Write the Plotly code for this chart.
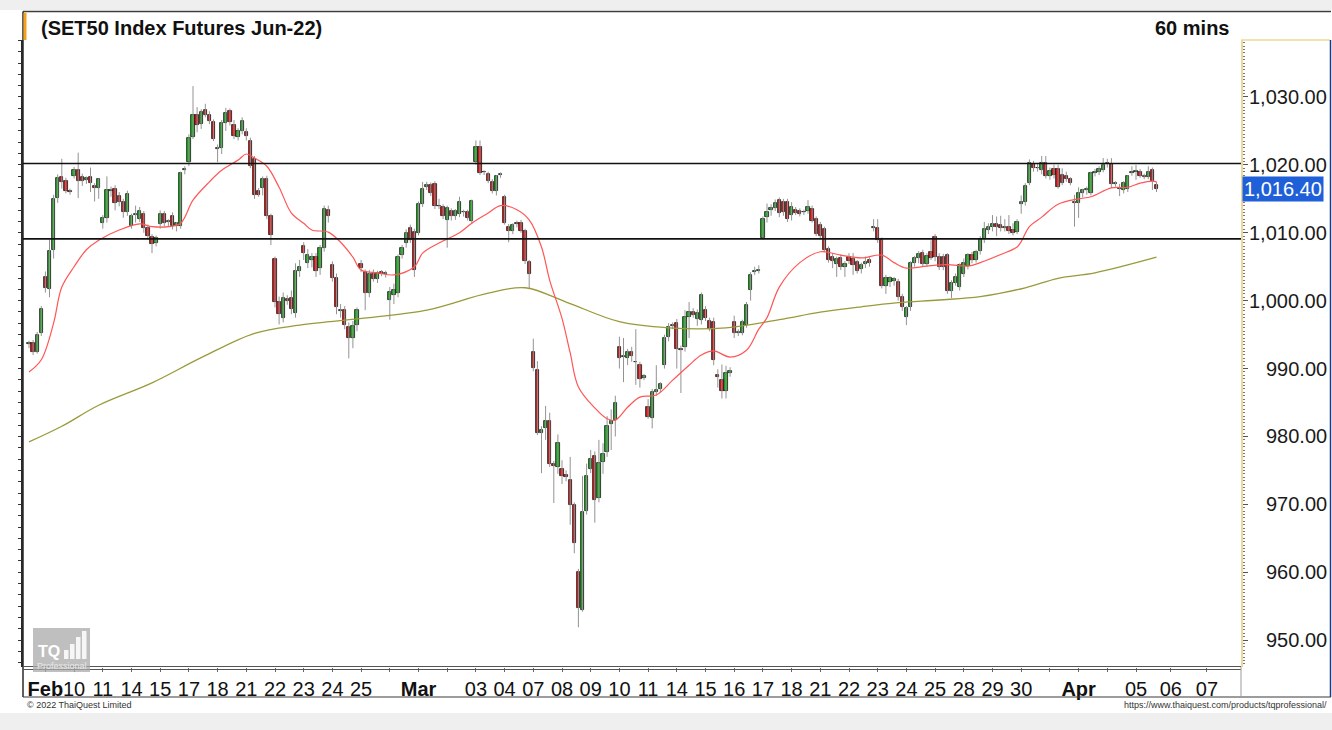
import plotly.graph_objects as go

# ---------------- data (60-min bars) ----------------
opens = [993.6, 993.8, 992.4, 995.2, 1003.5, 1001.7, 1007.5, 1015.1, 1018.2, 1017.6, 1016.1,
         1018.4, 1019.3, 1018.2, 1017.7, 1018.2, 1016.9, 1016.6,
         1011.5, 1012.2, 1016.2, 1016.4, 1015.4, 1014.6, 1013.1,
         1011.0, 1012.6, 1012.0, 1012.8, 1010.7, 1009.4, 1008.5,
         1011.3, 1012.8, 1011.6, 1012.4, 1011.0, 1011.0, 1019.2,
         1020.4, 1024.1, 1027.4, 1026.0, 1028.1, 1027.4, 1026.3,
         1022.3, 1022.5, 1026.2, 1027.9, 1025.8, 1024.1, 1025.0,
         1024.9, 1023.5, 1020.8, 1016.2, 1016.6, 1017.9, 1012.4,
         1006.1, 999.8, 997.5, 1000.2, 1000.4, 998.2, 1004.3,
         1008.0, 1005.5, 1006.0, 1006.5, 1004.8, 1007.8, 1013.4,
         1005.2, 1003.3, 998.5, 998.6, 996.1, 994.5, 996.4,
         1005.4, 1004.2, 1001.1, 1004.0, 1003.2, 1004.2, 1004.0,
         1000.1, 1000.8, 1001.1, 1006.8, 1008.5, 1010.7, 1010.1,
         1010.0, 1014.3, 1016.8, 1017.0, 1017.2, 1014.0, 1013.8,
         1011.9, 1013.2, 1012.5, 1012.8, 1013.0, 1013.0, 1011.8,
         1020.4, 1022.6, 1018.9, 1018.7, 1017.5, 1016.1, 1018.5,
         1015.3, 1010.8, 1010.2, 1011.5, 1011.4, 1010.2, 1005.7,
         992.4, 989.8, 980.5, 981.2, 982.3, 975.9, 975.5,
         975.2, 974.4, 973.6, 969.9, 960.0, 954.5, 969.0,
         975.2, 977.1, 970.9, 976.3, 977.7, 981.8, 982.5,
         993.2, 991.7, 991.6, 992.5, 990.9, 990.6, 988.6,
         984.4, 982.7, 986.5, 987.0, 990.5, 994.6, 996.3,
         996.7, 992.9, 993.2, 997.6, 998.4, 997.3, 997.2,
         998.6, 997.0, 996.9, 989.0, 988.3, 986.7, 989.4,
         996.9, 995.2, 995.3, 996.4, 1001.6, 1004.2, 1004.4,
         1009.2, 1012.3, 1013.3, 1013.6, 1014.8, 1014.6, 1014.6,
         1012.6, 1013.4, 1013.2, 1013.0, 1013.2, 1013.5, 1012.0,
         1011.2, 1010.5, 1007.6, 1006.5, 1005.4, 1006.3, 1004.9,
         1006.4, 1006.1, 1005.7, 1004.6, 1005.4, 1006.0, 1010.7,
         1010.7, 1008.9, 1002.2, 1002.8, 1002.9, 1002.7, 1000.5,
         997.6, 999.1, 1005.6, 1006.3, 1007.0, 1005.4, 1007.1,
         1009.4, 1006.5, 1006.4, 1006.7, 1001.4, 1002.6, 1002.0,
         1004.0, 1005.1, 1006.7, 1006.0, 1007.3, 1009.1, 1010.4,
         1010.8, 1011.3, 1011.2, 1010.7, 1010.9, 1010.4, 1010.1,
         1014.2, 1014.5, 1017.4, 1020.2, 1019.6, 1019.3, 1020.3,
         1018.4, 1019.4, 1019.4, 1018.5, 1018.3, 1017.9, 1014.6,
         1014.4, 1015.9, 1016.3, 1015.9, 1018.8, 1019.0, 1019.2,
         1020.1, 1020.1, 1017.2, 1016.6, 1016.3, 1016.4, 1018.8,
         1019.0, 1019.0, 1018.4, 1018.2, 1019.3, 1017.0]
highs = [994.1, 994.2, 995.4, 999.2, 1004.3, 1009.0, 1015.6, 1018.6, 1020.9, 1018.1, 1016.5,
         1019.7, 1021.8, 1018.7, 1018.3, 1019.6, 1017.3, 1018.0,
         1012.6, 1018.3, 1016.8, 1017.0, 1016.0, 1015.0, 1016.2,
         1012.8, 1014.0, 1013.8, 1013.2, 1011.2, 1009.8, 1009.6,
         1013.3, 1013.2, 1012.0, 1013.0, 1011.6, 1019.0, 1019.8,
         1024.5, 1031.6, 1028.5, 1028.2, 1029.0, 1027.9, 1026.7,
         1023.0, 1026.6, 1028.4, 1028.3, 1026.6, 1025.4, 1027.0,
         1025.4, 1024.0, 1021.3, 1016.6, 1018.3, 1018.4, 1012.8,
         1006.5, 1000.6, 1001.2, 1000.8, 1001.5, 1005.5, 1006.0,
         1008.6, 1007.6, 1007.0, 1007.0, 1008.2, 1014.0, 1014.0,
         1005.8, 1004.0, 999.5, 999.2, 996.8, 997.0, 999.0,
         1006.0, 1004.6, 1004.5, 1004.6, 1004.4, 1004.5, 1004.4,
         1002.0, 1002.5, 1006.8, 1008.2, 1010.5, 1011.2, 1010.6,
         1014.6, 1017.5, 1017.5, 1017.4, 1017.6, 1015.0, 1014.2,
         1014.0, 1013.6, 1013.5, 1015.3, 1013.4, 1013.4, 1014.9,
         1023.6, 1023.6, 1019.2, 1019.0, 1017.9, 1018.5, 1018.9,
         1015.6, 1011.3, 1011.4, 1011.8, 1011.9, 1010.6, 1006.0,
         994.4, 991.1, 981.5, 984.5, 983.5, 976.4, 980.3,
         976.5, 975.0, 977.0, 970.3, 960.5, 974.2, 976.0,
         978.0, 977.8, 979.5, 979.0, 983.0, 984.0, 986.0,
         994.7, 994.5, 992.9, 993.2, 995.8, 991.0, 989.2,
         985.5, 987.0, 990.5, 988.0, 995.0, 996.7, 996.8,
         997.3, 993.4, 998.6, 999.8, 998.9, 998.7, 1001.2,
         999.2, 997.5, 997.5, 989.9, 990.6, 990.4, 990.2,
         997.8, 995.8, 997.2, 999.8, 1004.2, 1005.0, 1005.2,
         1012.4, 1014.3, 1014.2, 1014.9, 1015.2, 1015.0, 1015.0,
         1014.5, 1013.8, 1013.6, 1013.4, 1014.8, 1014.0, 1012.4,
         1011.6, 1010.9, 1008.0, 1007.0, 1006.5, 1006.8, 1005.8,
         1007.0, 1007.0, 1006.0, 1005.6, 1006.5, 1006.4, 1012.0,
         1012.0, 1009.3, 1003.8, 1003.6, 1003.5, 1003.2, 1001.0,
         999.2, 1005.8, 1006.6, 1007.3, 1007.5, 1007.0, 1008.9,
         1009.8, 1007.0, 1006.9, 1007.0, 1003.0, 1004.0, 1005.5,
         1006.2, 1007.0, 1007.2, 1007.5, 1009.5, 1011.6, 1011.4,
         1012.6, 1012.4, 1012.5, 1012.0, 1012.6, 1011.4, 1012.0,
         1015.5, 1017.3, 1020.8, 1020.6, 1020.2, 1021.3, 1021.3,
         1019.6, 1020.0, 1020.0, 1019.5, 1019.0, 1018.2, 1015.6,
         1016.7, 1016.5, 1016.8, 1019.0, 1019.4, 1019.8, 1021.0,
         1020.9, 1021.0, 1017.6, 1017.2, 1017.6, 1018.5, 1019.8,
         1020.0, 1019.4, 1018.7, 1019.8, 1019.6, 1017.5]
lows = [993.0, 992.0, 992.2, 994.8, 1001.2, 1000.5, 1006.2, 1014.4, 1016.5, 1015.8, 1015.6,
        1018.0, 1015.1, 1016.9, 1017.2, 1016.0, 1014.6, 1015.0,
        1010.6, 1011.5, 1015.3, 1013.3, 1013.9, 1012.2, 1012.5,
        1010.6, 1011.5, 1011.6, 1010.0, 1009.0, 1007.0, 1008.0,
        1010.6, 1011.0, 1011.0, 1010.5, 1010.2, 1010.6, 1018.6,
        1019.8, 1023.8, 1024.8, 1025.3, 1027.0, 1026.0, 1023.5,
        1020.4, 1021.6, 1025.0, 1025.8, 1023.8, 1023.6, 1024.5,
        1023.6, 1019.5, 1015.0, 1015.3, 1015.5, 1012.0, 1008.2,
        999.0, 996.5, 996.8, 999.4, 998.0, 997.5, 1003.5,
        1006.0, 1004.8, 1004.9, 1003.5, 1003.8, 1007.2, 1011.5,
        1002.8, 998.0, 997.5, 995.8, 991.5, 993.0, 995.5,
        1004.2, 998.6, 1000.5, 1002.8, 1002.6, 1003.6, 1003.4,
        997.2, 999.5, 1000.5, 1006.2, 1007.8, 1008.5, 1003.5,
        1009.6, 1013.8, 1016.3, 1015.4, 1013.5, 1013.5, 1012.0,
        1007.8, 1011.8, 1011.9, 1012.3, 1012.4, 1011.8, 1011.3,
        1020.0, 1018.5, 1018.5, 1017.3, 1015.8, 1015.5, 1018.1,
        1011.2, 1008.6, 1009.8, 1010.8, 1010.0, 1005.4, 1001.7,
        989.6, 980.2, 974.6, 979.5, 975.5, 970.2, 974.5,
        973.0, 973.4, 967.0, 962.8, 951.9, 954.2, 968.5,
        974.6, 967.3, 970.3, 974.5, 977.0, 978.0, 980.0,
        990.0, 988.0, 990.5, 991.0, 987.6, 987.2, 988.3,
        982.6, 981.2, 986.0, 986.5, 990.0, 994.0, 995.8,
        990.0, 986.4, 992.5, 994.5, 997.5, 996.3, 996.5,
        997.0, 995.5, 990.5, 987.2, 985.6, 985.6, 988.8,
        994.5, 994.8, 994.9, 996.0, 1000.0, 1003.8, 1004.0,
        1009.0, 1011.5, 1012.5, 1013.2, 1012.3, 1012.5, 1011.6,
        1011.8, 1012.6, 1012.4, 1012.6, 1012.8, 1011.5, 1009.5,
        1009.0, 1007.2, 1005.6, 1004.8, 1003.5, 1004.5, 1003.5,
        1005.4, 1003.8, 1004.0, 1004.0, 1004.8, 1005.0, 1010.2,
        1008.5, 1001.8, 1001.0, 1002.0, 1002.2, 1000.0, 998.5,
        996.4, 998.5, 1005.0, 1005.5, 1005.0, 1005.0, 1006.0,
        1005.8, 1004.5, 1004.5, 1001.0, 1000.4, 1002.2, 1001.5,
        1003.5, 1004.6, 1005.5, 1005.6, 1006.8, 1008.5, 1009.8,
        1010.2, 1009.5, 1010.2, 1010.2, 1009.8, 1009.6, 1009.8,
        1012.8, 1014.0, 1017.0, 1019.0, 1019.0, 1018.6, 1018.0,
        1017.8, 1018.0, 1016.5, 1017.0, 1017.5, 1017.0, 1010.9,
        1012.2, 1015.2, 1015.6, 1015.5, 1018.3, 1018.5, 1018.9,
        1019.6, 1016.6, 1016.8, 1015.4, 1015.8, 1016.0, 1018.4,
        1017.8, 1018.1, 1017.9, 1017.9, 1016.3, 1016.0]
closes = [993.6, 992.4, 995.0, 998.8, 1001.8, 1007.3, 1015.0, 1018.1, 1017.5, 1016.1, 1016.0,
          1019.3, 1017.6, 1017.6, 1018.0, 1017.3, 1016.6, 1017.9,
          1012.2, 1016.3, 1016.2, 1014.4, 1014.6, 1013.1, 1015.7,
          1012.4, 1012.6, 1013.2, 1010.7, 1009.5, 1008.3, 1009.2,
          1012.8, 1011.4, 1011.6, 1011.0, 1011.4, 1018.8, 1019.2,
          1024.0, 1027.4, 1025.9, 1027.8, 1027.4, 1026.5, 1023.8,
          1022.3, 1026.2, 1027.7, 1026.3, 1024.3, 1025.0, 1026.4,
          1024.2, 1019.9, 1015.6, 1015.6, 1017.9, 1012.5, 1009.6,
          999.8, 998.0, 1000.4, 1000.0, 998.8, 1004.3, 1005.0,
          1007.0, 1006.8, 1006.5, 1004.3, 1007.7, 1013.5, 1012.4,
          1003.3, 999.0, 998.5, 996.4, 994.5, 996.2, 998.6,
          1004.8, 1001.1, 1004.0, 1003.2, 1004.1, 1004.0, 1004.0,
          1001.3, 1001.6, 1006.4, 1007.8, 1010.0, 1009.0, 1004.5,
          1014.3, 1016.5, 1017.0, 1015.9, 1014.0, 1013.9, 1012.4,
          1013.6, 1012.5, 1013.2, 1014.6, 1013.0, 1012.2, 1014.7,
          1022.6, 1018.8, 1018.9, 1017.6, 1016.1, 1018.3, 1018.5,
          1011.5, 1010.2, 1011.1, 1011.3, 1010.2, 1005.8, 1003.9,
          990.1, 980.5, 980.9, 982.3, 975.9, 975.7, 979.1,
          974.2, 974.0, 969.9, 964.3, 954.7, 968.9, 974.2,
          976.7, 970.7, 976.1, 977.4, 981.6, 982.3, 985.0,
          991.6, 991.7, 992.4, 991.8, 990.9, 988.5, 988.9,
          982.9, 986.5, 986.8, 987.8, 994.5, 996.1, 996.4,
          992.9, 992.8, 997.6, 998.4, 997.9, 998.2, 1000.8,
          997.4, 995.9, 991.3, 988.7, 986.7, 989.4, 989.6,
          995.2, 995.3, 996.9, 999.4, 1003.8, 1004.4, 1004.4,
          1012.1, 1013.0, 1013.6, 1014.4, 1012.9, 1013.0, 1012.0,
          1013.8, 1012.9, 1012.8, 1013.0, 1013.8, 1011.8, 1009.8,
          1009.5, 1007.5, 1006.0, 1005.8, 1006.2, 1005.0, 1005.4,
          1005.8, 1005.3, 1004.3, 1005.2, 1005.7, 1005.5, 1010.7,
          1008.9, 1002.2, 1003.4, 1003.3, 1003.2, 1000.5, 999.0,
          998.9, 1005.5, 1006.3, 1006.9, 1005.4, 1006.6, 1006.3,
          1006.4, 1005.0, 1005.0, 1001.4, 1002.6, 1003.5, 1005.2,
          1005.6, 1006.7, 1006.0, 1007.2, 1009.1, 1010.5, 1010.8,
          1011.3, 1010.9, 1010.7, 1010.7, 1010.3, 1010.0, 1011.6,
          1014.6, 1016.9, 1020.3, 1019.5, 1019.5, 1020.3, 1018.4,
          1019.1, 1018.5, 1016.8, 1017.4, 1017.9, 1017.4, 1014.4,
          1015.9, 1016.3, 1016.3, 1018.8, 1019.0, 1019.4, 1020.0,
          1020.1, 1017.2, 1017.2, 1016.4, 1017.3, 1018.3, 1018.8,
          1019.0, 1018.4, 1018.2, 1019.0, 1017.6, 1016.4]

# moving averages, sampled at bar indices
fast_ma_idx = [0, 3, 6, 8, 11, 14, 17, 22, 27, 30, 34, 37, 40, 44, 47, 51, 53, 55, 58, 61,
               64, 67, 69, 73, 76, 79, 81, 85, 89, 94, 96, 100, 105, 108, 112, 115, 119, 122,
               125, 127, 130, 132, 134, 138, 141, 143, 146, 149, 153, 157, 161, 164, 167,
               171, 175, 178, 180, 183, 188, 193, 198, 203, 208, 211, 214, 219, 224, 229,
               232, 237, 241, 242, 244, 247, 251, 256, 259, 264, 268, 271, 274, 275]
fast_ma_val = [989.5, 991.3, 996.7, 1002.0, 1005.0, 1007.5, 1008.9, 1010.4, 1011.3, 1010.9,
               1010.9, 1011.4, 1014.8, 1017.5, 1019.2, 1020.7, 1021.6, 1021.0, 1019.8, 1016.7,
               1012.9, 1011.4, 1010.4, 1010.1, 1008.6, 1006.4, 1004.5, 1004.1, 1003.8, 1005.0,
               1007.0, 1008.5, 1010.0, 1011.4, 1012.9, 1014.0, 1013.4, 1011.9,
               1007.9, 1003.0, 997.4, 992.3, 987.3, 984.2, 982.6, 982.4, 984.3, 985.8,
               986.1, 988.3, 990.5, 992.0, 992.6, 991.7, 992.7, 995.8, 997.5, 1002.0,
               1005.6, 1007.2, 1006.7, 1006.3, 1006.7, 1005.6, 1004.8, 1005.1, 1005.3,
               1005.1, 1005.6, 1006.8, 1007.9, 1008.7, 1010.9, 1012.3, 1014.2, 1015.0,
               1015.3, 1016.6, 1016.7, 1017.3, 1017.6, 1017.5]
slow_ma_idx = [0, 8, 17, 30, 42, 55, 66, 83, 97, 112, 121, 131, 144, 156, 170, 183, 193,
               203, 212, 222, 232, 243, 251, 260, 275]
slow_ma_val = [979.2, 981.5, 984.6, 987.9, 991.6, 995.2, 996.4, 997.5, 998.6, 1001.1, 1001.9,
               999.8, 996.9, 996.0, 996.0, 997.2, 998.3, 999.1, 999.7, 1000.1, 1000.6,
               1001.9, 1003.3, 1004.1, 1006.4]

resistance_level = 1020.2
support_level = 1009.1
last_price = 1016.4
price_ticks = [950, 960, 970, 980, 990, 1000, 1010, 1020, 1030]

# one label per trading day (first bar of the day sits at 4 + 7*d)
day_labels = ["<b>Feb</b>", "10", "11", "14", "15", "17", "18", "21", "22", "23", "24", "25",
              "", "<b>Mar</b>", "", "03", "04", "07", "08", "09", "10", "11", "14", "15", "16",
              "17", "18", "21", "22", "23", "24", "25", "28", "29", "30", "", "<b>Apr</b>", "",
              "05"]
future_labels = ["06", "07"]
future_pos = [278.5, 287.3]

# ---------------- figure ----------------
W, H = 1332, 730
PL, PR, PT, PB = 23, 1241, 40, 667   # plot area in pixels
FONT = "Arial, Liberation Sans, sans-serif"


def px(v):
    return (v - PL) / (PR - PL)


def py(v):
    return (PB - v) / (PB - PT)


n = len(opens)
idx = list(range(n))

wick_x, wick_y = [], []
for i in idx:
    wick_x += [i, i, None]
    wick_y += [lows[i], highs[i], None]

up = [i for i in idx if closes[i] >= opens[i]]
dn = [i for i in idx if closes[i] < opens[i]]

fig = go.Figure()
fig.add_trace(go.Scatter(x=wick_x, y=wick_y, mode="lines",
                         line=dict(color="#939393", width=1), hoverinfo="skip"))
fig.add_trace(go.Scatter(x=slow_ma_idx, y=slow_ma_val, mode="lines",
                         line=dict(color="#9a9a3a", width=1.3, shape="spline"), hoverinfo="skip"))
fig.add_trace(go.Scatter(x=fast_ma_idx, y=fast_ma_val, mode="lines",
                         line=dict(color="#ff5656", width=1.2, shape="spline"), hoverinfo="skip"))
fig.add_trace(go.Bar(x=up, base=[opens[i] for i in up],
                     y=[max(closes[i] - opens[i], 0.12) for i in up], width=0.8,
                     marker=dict(color="#1aa81a", line=dict(color="#1b1b1b", width=0.8)),
                     hoverinfo="skip"))
fig.add_trace(go.Bar(x=dn, base=[closes[i] for i in dn],
                     y=[opens[i] - closes[i] for i in dn], width=0.8,
                     marker=dict(color="#d01414", line=dict(color="#1b1b1b", width=0.8)),
                     hoverinfo="skip"))
# invisible trace to carry the left tick axis
fig.add_trace(go.Scatter(x=[0], y=[1000], yaxis="y2", mode="markers",
                         marker=dict(opacity=0), hoverinfo="skip"))

ymin, ymax = 946.05, 1038.39
tick_idx = [4 + 7 * d for d in range(len(day_labels))]

fig.update_layout(
    width=W, height=H,
    margin=dict(l=PL, r=W - PR, t=PT, b=H - PB, pad=0),
    paper_bgcolor="white", plot_bgcolor="white",
    showlegend=False, barmode="overlay", bargap=0,
    font=dict(family=FONT, color="#111"),
    xaxis=dict(range=[(PL - 29) / 4.1, (PR - 29) / 4.1], showgrid=False, zeroline=False,
               tickmode="array", tickvals=tick_idx + future_pos,
               ticktext=day_labels + future_labels, tickangle=0,
               ticks="outside", ticklen=4, tickcolor="#666", tickwidth=1,
               tickfont=dict(size=20, family=FONT, color="#111"), showline=False),
    yaxis=dict(range=[ymin, ymax], side="right", showgrid=False, zeroline=False,
               showticklabels=False, tick0=950, dtick=10, ticks="outside", ticklen=5,
               tickcolor="#555", showline=True, linecolor="#eed79a", linewidth=1.5,
               minor=dict(ticks="outside", ticklen=2, dtick=0.5, tickcolor="#777")),
    yaxis2=dict(range=[ymin, ymax], overlaying="y", side="left", showgrid=False,
                zeroline=False, showticklabels=False, tick0=950, dtick=10 / 6,
                ticks="outside", ticklen=3, tickcolor="#333", showline=True,
                linecolor="#2a2a2a", linewidth=1.5),
)

shapes = []
# page bands
shapes.append(dict(type="rect", xref="paper", yref="paper", x0=px(0), x1=px(W), y0=py(0),
                   y1=py(10), fillcolor="#efefef", line=dict(width=0), layer="below"))
shapes.append(dict(type="rect", xref="paper", yref="paper", x0=px(0), x1=px(W), y0=py(713),
                   y1=py(H), fillcolor="#efefef", line=dict(width=0), layer="below"))
# frame
shapes.append(dict(type="line", xref="paper", yref="paper", x0=px(PL), x1=px(1331),
                   y0=py(11.5), y1=py(11.5), line=dict(color="#3c3c3c", width=1.5)))
shapes.append(dict(type="line", xref="paper", yref="paper", x0=px(PL), x1=px(PL),
                   y0=py(11.5), y1=py(697), line=dict(color="#2a2a2a", width=1.5)))
shapes.append(dict(type="rect", xref="paper", yref="paper", x0=px(23.5), x1=px(26.5),
                   y0=py(40), y1=py(13), fillcolor="#f7a21b", line=dict(width=0)))
shapes.append(dict(type="line", xref="paper", yref="paper", x0=px(PR), x1=px(1330),
                   y0=py(PT), y1=py(PT), line=dict(color="#eed79a", width=1.5)))
shapes.append(dict(type="line", xref="paper", yref="paper", x0=px(1330.5), x1=px(1330.5),
                   y0=py(PT), y1=py(697), line=dict(color="#1d3a8a", width=1.5)))
for yy in (666.5, 669.5):
    shapes.append(dict(type="line", xref="paper", yref="paper", x0=px(PL), x1=px(PR),
                       y0=py(yy), y1=py(yy), line=dict(color="#555", width=1)))
shapes.append(dict(type="line", xref="paper", yref="paper", x0=px(PL), x1=px(1331),
                   y0=py(697), y1=py(697), line=dict(color="#3a3a3a", width=1.2)))
shapes.append(dict(type="line", xref="paper", yref="paper", x0=px(PR), x1=px(PR),
                   y0=py(PB), y1=py(697), line=dict(color="#9a9a9a", width=1)))
# support / resistance
for lvl in (resistance_level, support_level):
    shapes.append(dict(type="line", xref="paper", yref="y", x0=0, x1=1, y0=lvl, y1=lvl,
                       line=dict(color="#111", width=1.6)))
# logo
shapes.append(dict(type="rect", xref="paper", yref="paper", x0=px(33), x1=px(90),
                   y0=py(672), y1=py(628), fillcolor="#aaaaaa", opacity=0.75,
                   line=dict(width=0)))
for k, (bx, top) in enumerate([(64, 650), (70, 644), (76, 637), (82, 631)]):
    shapes.append(dict(type="rect", xref="paper", yref="paper", x0=px(bx), x1=px(bx + 4.5),
                       y0=py(659), y1=py(top), fillcolor="white", opacity=0.85,
                       line=dict(width=0)))
fig.update_layout(shapes=shapes)

ann = []
ann.append(dict(text="<b>(SET50 Index Futures Jun-22)</b>", xref="paper", yref="paper",
                x=px(39), y=py(28), xanchor="left", yanchor="middle", showarrow=False,
                font=dict(size=20, family=FONT, color="#111")))
ann.append(dict(text="<b>60 mins</b>", xref="paper", yref="paper", x=px(1231), y=py(28),
                xanchor="right", yanchor="middle", showarrow=False,
                font=dict(size=20, family=FONT, color="#111")))
for v in price_ticks:
    ann.append(dict(text=f"{v:,.2f}", xref="paper", yref="y", x=px(1329), y=v,
                    xanchor="right", yanchor="middle", showarrow=False,
                    font=dict(size=20, family=FONT, color="#1a1a1a")))
ann.append(dict(text=f"{last_price:,.2f}", xref="paper", yref="y", x=px(1242), y=last_price,
                xanchor="left", yanchor="middle", showarrow=False, bgcolor="#1f5fd8",
                borderpad=1, font=dict(size=20, family=FONT, color="white")))
ann.append(dict(text="© 2022 ThaiQuest Limited", xref="paper", yref="paper", x=px(25),
                y=py(705), xanchor="left", yanchor="middle", showarrow=False,
                font=dict(size=9, family=FONT, color="#333")))
ann.append(dict(text="https://www.thaiquest.com/products/tqprofessional/", xref="paper",
                yref="paper", x=px(1329), y=py(705), xanchor="right", yanchor="middle",
                showarrow=False, font=dict(size=9, family=FONT, color="#333")))
ann.append(dict(text="<b>TQ</b>", xref="paper", yref="paper", x=px(36), y=py(651),
                xanchor="left", yanchor="middle", showarrow=False,
                font=dict(size=16, family=FONT, color="white")))
ann.append(dict(text="Professional", xref="paper", yref="paper", x=px(35), y=py(666),
                xanchor="left", yanchor="middle", showarrow=False,
                font=dict(size=9, family=FONT, color="#e8e8e8")))
fig.update_layout(annotations=ann)

fig.write_html("out.html", config={"displayModeBar": False},
               post_script="document.body.style.margin='0px';"
                           "document.body.style.overflow='hidden';")
